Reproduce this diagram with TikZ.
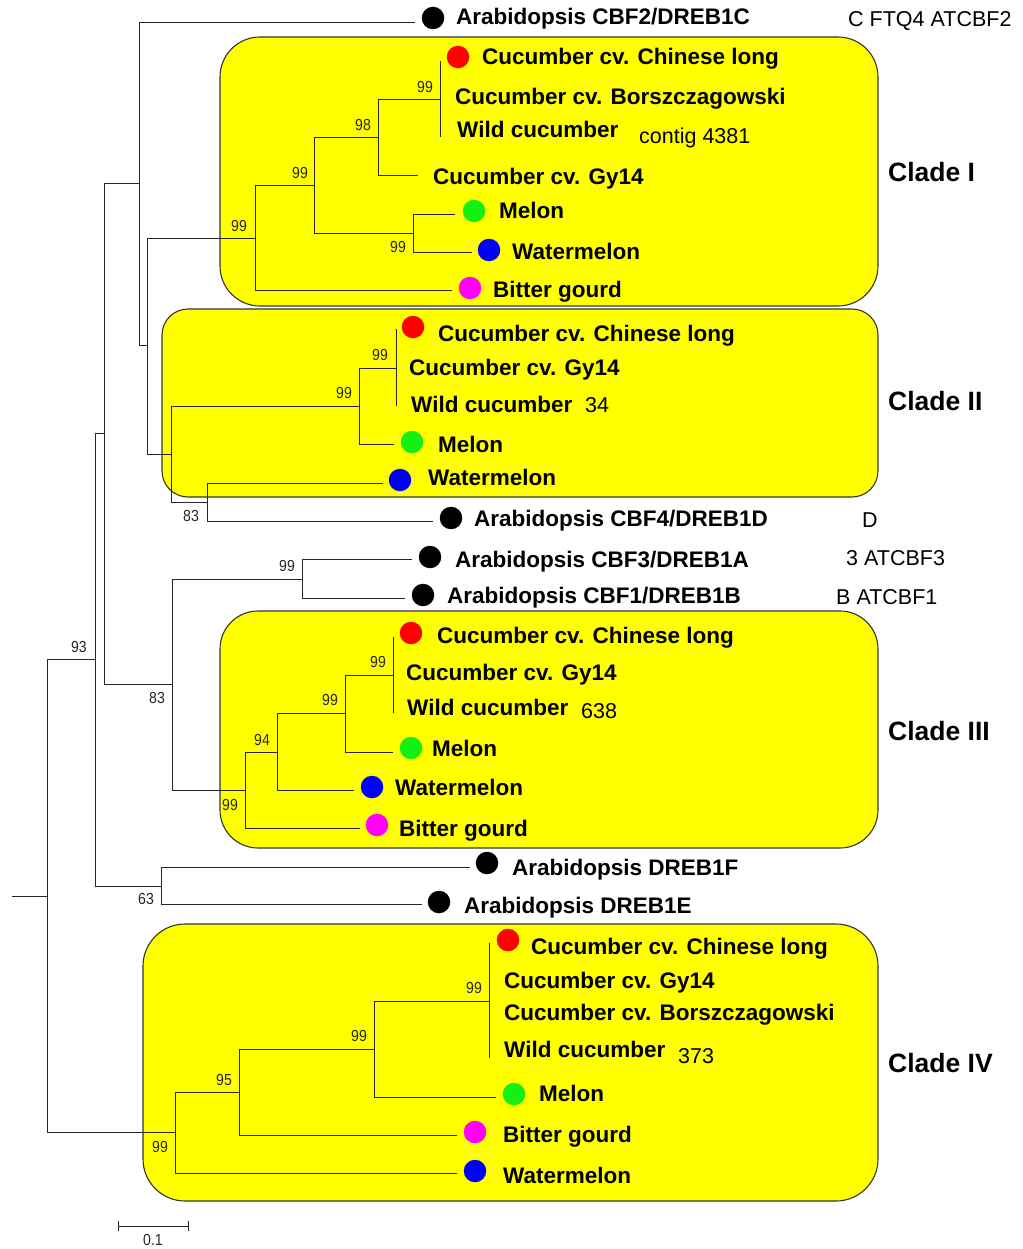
\documentclass[tikz,border=0pt]{standalone}
\usepackage{fontspec}
\setmainfont{Liberation Sans}
\newfontfamily\bootfont[FakeStretch=0.88]{Liberation Sans}
\definecolor{cladeyellow}{RGB}{255,255,0}
\definecolor{dotred}{RGB}{255,0,0}
\definecolor{dotgreen}{RGB}{20,240,20}
\definecolor{dotblue}{RGB}{0,0,255}
\definecolor{dotpink}{RGB}{255,0,255}
\begin{document}
\begin{tikzpicture}[x=1pt,y=-1pt,
  branch/.style={draw=black!85,line width=0.9pt},
  cladebox/.style={draw=black!80,fill=cladeyellow,line width=1.1pt},
  leaf/.style={font=\fontsize{22.5}{24}\selectfont\bfseries,anchor=west,inner sep=0pt,text height=16pt,text depth=0pt},
  note/.style={font=\fontsize{21.5}{24}\selectfont,anchor=west,inner sep=0pt,text height=15.5pt,text depth=0pt},
  boot/.style={font=\bootfont\fontsize{16}{16}\selectfont,text=black!85,inner sep=0pt,text height=11.5pt,text depth=0pt},
  cladename/.style={font=\fontsize{26.5}{28}\selectfont\bfseries,anchor=west,inner sep=0pt,text height=19pt,text depth=0pt},
  dot/.style={circle,inner sep=0pt,minimum size=22.5pt},
  blackdot/.style={dot,fill=black},
  reddot/.style={dot,fill=dotred},
  greendot/.style={dot,fill=dotgreen},
  bluedot/.style={dot,fill=dotblue},
  pinkdot/.style={dot,fill=dotpink}]
\useasboundingbox (0,0) rectangle (1022,1249);

% clade boxes
\draw[cladebox,rounded corners=40] (220,37) rectangle (878,306);
\draw[cladebox,rounded corners=26] (162,309) rectangle (878,497);
\draw[cladebox,rounded corners=38] (220,611) rectangle (878,848);
\draw[cladebox,rounded corners=42] (143,924) rectangle (878,1201);

% internal nodes
\coordinate (stub) at (12,896);
\coordinate (root) at (47,896);
\coordinate (n95) at (95,659);
\coordinate (n104) at (104,433);
\coordinate (n139) at (139,183);
\coordinate (n147) at (147,345);
\coordinate (n255) at (255,238);
\coordinate (n314) at (314,185);
\coordinate (n378) at (378,137);
\coordinate (n440) at (440,99);
\coordinate (n413) at (413,233);
\coordinate (n171) at (171,454);
\coordinate (n359) at (359,406);
\coordinate (n396) at (396,368);
\coordinate (n207) at (207,502);
\coordinate (n172) at (172,684);
\coordinate (n302) at (302,579);
\coordinate (n245) at (245,790);
\coordinate (n277) at (277,752);
\coordinate (n345) at (345,713);
\coordinate (n393) at (393,675);
\coordinate (n161) at (161,886);
\coordinate (n175) at (175,1132);
\coordinate (n239) at (239,1092);
\coordinate (n374) at (374,1049);
\coordinate (n489) at (489,1001);

% polytomy ends
\coordinate (pA1) at (440,61);   \coordinate (pA2) at (440,137);
\coordinate (pB1) at (396,329);  \coordinate (pB2) at (396,406);
\coordinate (pC1) at (393,637);  \coordinate (pC2) at (393,713);
\coordinate (pD1) at (489,943);  \coordinate (pD2) at (489,1058);

% branch tips
\coordinate (tCBF2) at (415,22);
\coordinate (tGyA) at (418,175);
\coordinate (tMelA) at (455,214);
\coordinate (tWatA) at (472,252);
\coordinate (tBitA) at (452,290);
\coordinate (tMelB) at (394,444);
\coordinate (tWatB) at (383,483);
\coordinate (tCBF4) at (433,521);
\coordinate (tCBF3) at (412,559);
\coordinate (tCBF1) at (405,598);
\coordinate (tMelC) at (393,752);
\coordinate (tWatC) at (354,790);
\coordinate (tBitC) at (360,828);
\coordinate (tF) at (470,867);
\coordinate (tE) at (422,904);
\coordinate (tMelD) at (496,1097);
\coordinate (tBitD) at (457,1135);
\coordinate (tWatD) at (457,1173);

% branches
\draw[branch] (stub) -- (root);
\draw[branch] (root) |- (n95);   \draw[branch] (root) |- (n175);
\draw[branch] (n95) |- (n104);   \draw[branch] (n95) |- (n161);
\draw[branch] (n104) |- (n139);  \draw[branch] (n104) |- (n172);
\draw[branch] (n139) |- (tCBF2); \draw[branch] (n139) |- (n147);
\draw[branch] (n147) |- (n255);  \draw[branch] (n147) |- (n171);
\draw[branch] (n255) |- (n314);  \draw[branch] (n255) |- (tBitA);
\draw[branch] (n314) |- (n378);  \draw[branch] (n314) |- (n413);
\draw[branch] (n378) |- (n440);  \draw[branch] (n378) |- (tGyA);
\draw[branch] (pA1) -- (pA2);
\draw[branch] (n413) |- (tMelA); \draw[branch] (n413) |- (tWatA);
\draw[branch] (n171) |- (n359);  \draw[branch] (n171) |- (n207);
\draw[branch] (n359) |- (n396);  \draw[branch] (n359) |- (tMelB);
\draw[branch] (pB1) -- (pB2);
\draw[branch] (n207) |- (tWatB); \draw[branch] (n207) |- (tCBF4);
\draw[branch] (n172) |- (n302);  \draw[branch] (n172) |- (n245);
\draw[branch] (n302) |- (tCBF3); \draw[branch] (n302) |- (tCBF1);
\draw[branch] (n245) |- (n277);  \draw[branch] (n245) |- (tBitC);
\draw[branch] (n277) |- (n345);  \draw[branch] (n277) |- (tWatC);
\draw[branch] (n345) |- (n393);  \draw[branch] (n345) |- (tMelC);
\draw[branch] (pC1) -- (pC2);
\draw[branch] (n161) |- (tF);    \draw[branch] (n161) |- (tE);
\draw[branch] (n175) |- (n239);  \draw[branch] (n175) |- (tWatD);
\draw[branch] (n239) |- (n374);  \draw[branch] (n239) |- (tBitD);
\draw[branch] (n374) |- (n489);  \draw[branch] (n374) |- (tMelD);
\draw[branch] (pD1) -- (pD2);

% bootstrap values
\node[boot] (b1) at (425,87) {99};
\node[boot] (b2) at (363,125) {98};
\node[boot] (b3) at (300,173) {99};
\node[boot] (b4) at (239,226) {99};
\node[boot] (b5) at (398,247) {99};
\node[boot] (b6) at (380,355) {99};
\node[boot] (b7) at (344,393) {99};
\node[boot] (b8) at (191,516) {83};
\node[boot] (b9) at (287,566) {99};
\node[boot] (b10) at (79,647) {93};
\node[boot] (b11) at (157,698) {83};
\node[boot] (b12) at (378,662) {99};
\node[boot] (b13) at (330,700) {99};
\node[boot] (b14) at (262,740) {94};
\node[boot] (b15) at (230,805) {99};
\node[boot] (b16) at (146,899) {63};
\node[boot] (b17) at (474,988) {99};
\node[boot] (b18) at (359,1036) {99};
\node[boot] (b19) at (224,1080) {95};
\node[boot] (b20) at (160,1147) {99};

% Arabidopsis CBF2 and clade I
\node[blackdot] (dCBF2) at (433,18) {};
\node[leaf] (lCBF2) at (456,17) {Arabidopsis CBF2/DREB1C};
\node[note] (xCBF2) at (848,19) {C FTQ4 ATCBF2};
\node[reddot] (dA1) at (458,57) {};
\node[leaf] (lA1) at (482,57) {Cucumber cv. Chinese long};
\node[leaf] (lA2) at (455,97) {Cucumber cv. Borszczagowski};
\node[leaf] (lA3) at (457,130) {Wild cucumber};
\node[note] (xA3) at (639,136) {contig 4381};
\node[leaf] (lA4) at (433,177) {Cucumber cv. Gy14};
\node[greendot] (dA5) at (474,211) {};
\node[leaf] (lA5) at (499,211) {Melon};
\node[bluedot] (dA6) at (489,250) {};
\node[leaf] (lA6) at (512,251) {Watermelon};
\node[pinkdot] (dA7) at (470,288) {};
\node[leaf] (lA7) at (493,289) {Bitter gourd};
\node[cladename] (cI) at (888,172) {Clade I};

% clade II and CBF4
\node[reddot] (dB1) at (413,327) {};
\node[leaf] (lB1) at (438,333) {Cucumber cv. Chinese long};
\node[leaf] (lB2) at (409,367) {Cucumber cv. Gy14};
\node[leaf] (lB3) at (411,404) {Wild cucumber};
\node[note] (xB3) at (585,405) {34};
\node[greendot] (dB4) at (412,442) {};
\node[leaf] (lB4) at (438,444) {Melon};
\node[bluedot] (dB5) at (400,480) {};
\node[leaf] (lB5) at (428,477) {Watermelon};
\node[cladename] (cII) at (888,401) {Clade II};
\node[blackdot] (dCBF4) at (451,518) {};
\node[leaf] (lCBF4) at (474,518) {Arabidopsis CBF4/DREB1D};
\node[note] (xCBF4) at (862,520) {D};

% CBF3 and CBF1
\node[blackdot] (dCBF3) at (430,557) {};
\node[leaf] (lCBF3) at (455,559) {Arabidopsis CBF3/DREB1A};
\node[note] (xCBF3) at (846,558) {3 ATCBF3};
\node[blackdot] (dCBF1) at (423,595) {};
\node[leaf] (lCBF1) at (447,595) {Arabidopsis CBF1/DREB1B};
\node[note] (xCBF1) at (836,597) {B ATCBF1};

% clade III
\node[reddot] (dC1) at (411,633) {};
\node[leaf] (lC1) at (437,635) {Cucumber cv. Chinese long};
\node[leaf] (lC2) at (406,672) {Cucumber cv. Gy14};
\node[leaf] (lC3) at (407,707) {Wild cucumber};
\node[note] (xC3) at (581,711) {638};
\node[greendot] (dC4) at (411,748) {};
\node[leaf] (lC4) at (432,748) {Melon};
\node[bluedot] (dC5) at (372,787) {};
\node[leaf] (lC5) at (395,787) {Watermelon};
\node[pinkdot] (dC6) at (377,825) {};
\node[leaf] (lC6) at (399,828) {Bitter gourd};
\node[cladename] (cIII) at (888,731) {Clade III};

% DREB1F and DREB1E
\node[blackdot] (dF) at (487,863) {};
\node[leaf] (lF) at (512,867) {Arabidopsis DREB1F};
\node[blackdot] (dE) at (439,902) {};
\node[leaf] (lE) at (464,905) {Arabidopsis DREB1E};

% clade IV
\node[reddot] (dD1) at (508,940) {};
\node[leaf] (lD1) at (531,946) {Cucumber cv. Chinese long};
\node[leaf] (lD2) at (504,980) {Cucumber cv. Gy14};
\node[leaf] (lD3) at (504,1012) {Cucumber cv. Borszczagowski};
\node[leaf] (lD4) at (504,1049) {Wild cucumber};
\node[note] (xD4) at (678,1056) {373};
\node[greendot] (dD5) at (514,1094) {};
\node[leaf] (lD5) at (539,1093) {Melon};
\node[pinkdot] (dD6) at (475,1132) {};
\node[leaf] (lD6) at (503,1134) {Bitter gourd};
\node[bluedot] (dD7) at (475,1171) {};
\node[leaf] (lD7) at (503,1175) {Watermelon};
\node[cladename] (cIV) at (888,1063) {Clade IV};

% scale bar
\coordinate (s1) at (118,1226);
\coordinate (s2) at (188,1226);
\draw[branch] (s1) -- (s2);
\draw[branch] ([yshift=-5]s1) -- ([yshift=5]s1);
\draw[branch] ([yshift=-5]s2) -- ([yshift=5]s2);
\node[boot] (sLab) at (153,1240) {0.1};
\end{tikzpicture}
\end{document}
